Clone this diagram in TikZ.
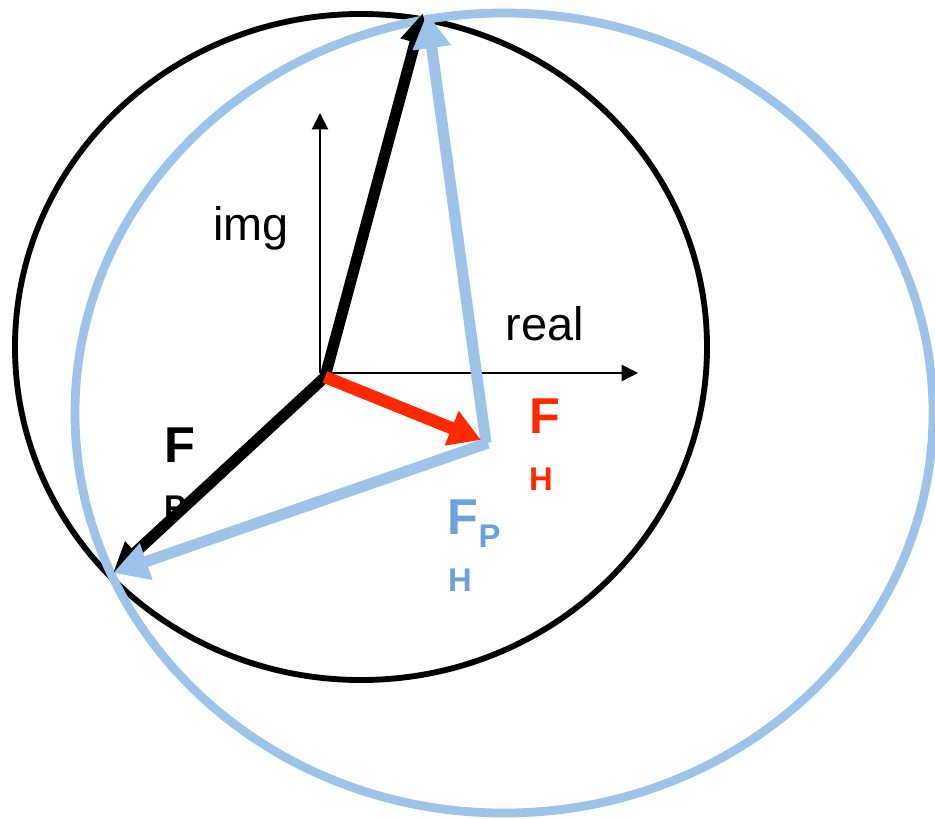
\documentclass[tikz,border=0pt]{standalone}
\usepackage{fontspec}
\setmainfont{Liberation Sans}
\usetikzlibrary{arrows.meta}
\definecolor{phasorred}{RGB}{255,40,0}
\definecolor{phasorblue}{RGB}{158,195,232}
\definecolor{labelblue}{RGB}{108,160,220}

\begin{document}
\begin{tikzpicture}[x=0.03cm, y=-0.03cm,
    axis/.style={line width=1.3pt, -{Triangle[length=14pt,width=14pt]}},
    blackvec/.style={line width=9.5pt, -{Triangle[length=26pt,width=24pt]}},
    redvec/.style={line width=10.5pt, phasorred, -{Triangle[length=27pt,width=30pt]}},
    bluevec/.style={line width=9.5pt, phasorblue, -{Triangle[length=30pt,width=31pt]}},
    bigF/.style={font=\fontsize{43}{50}\selectfont\bfseries, anchor=base},
    subF/.style={font=\fontsize{28}{33}\selectfont\bfseries, anchor=base},
    axlabel/.style={font=\fontsize{40}{48}\selectfont, anchor=base}]
  \useasboundingbox (0,0) rectangle (935,818);
  % ============= locus circles =============
  \draw[line width=5pt, black] (361,347) ellipse [x radius=10.38cm, y radius=9.99cm];
  \draw[line width=7.5pt, phasorblue] (504,413) ellipse [x radius=12.87cm, y radius=12cm];
  % ============= axes =============
  \coordinate (O)     at (320,373);
  \coordinate (imgend)  at (320,113);
  \coordinate (realend) at (638,373);
  \draw[axis] (O) -- (imgend);
  \draw[axis] (O) -- (realend);
  \node[axlabel] (img)  at (251,240) {img};
  \node[axlabel] (real) at (545,340) {real};
  % ============= phasor points =============
  \coordinate (base) at (325,377);
  \coordinate (top)  at (423,13);
  \coordinate (topb) at (427,13);
  \coordinate (left) at (113,573);
  \coordinate (hend) at (481,440);
  \coordinate (hcorner) at (486,441);
  % --- labels (F_P sits under its arrow) ---
  \node[bigF] (FP)  at (179.5,462) {F};
  \node[subF] (FPs) at (175,518) {P};
  \node[bigF, phasorred] (FH)  at (545,433) {F};
  \node[subF, phasorred] (FHs) at (541,490) {H};
  \node[bigF, labelblue] (FPH)   at (463,534) {F};
  \node[subF, labelblue] (FPHs1) at (489.5,547) {P};
  \node[subF, labelblue] (FPHs2) at (460,591) {H};
  % ============= vectors =============
  \draw[blackvec] (base) -- (top);
  \draw[blackvec] (base) -- (left);
  \draw[bluevec] ([shift={(0,2)}]hcorner) -- (topb);
  \draw[bluevec] ([shift={(2,2)}]hcorner) -- (left);
  \draw[redvec] (base) -- (hend);
\end{tikzpicture}
\end{document}
